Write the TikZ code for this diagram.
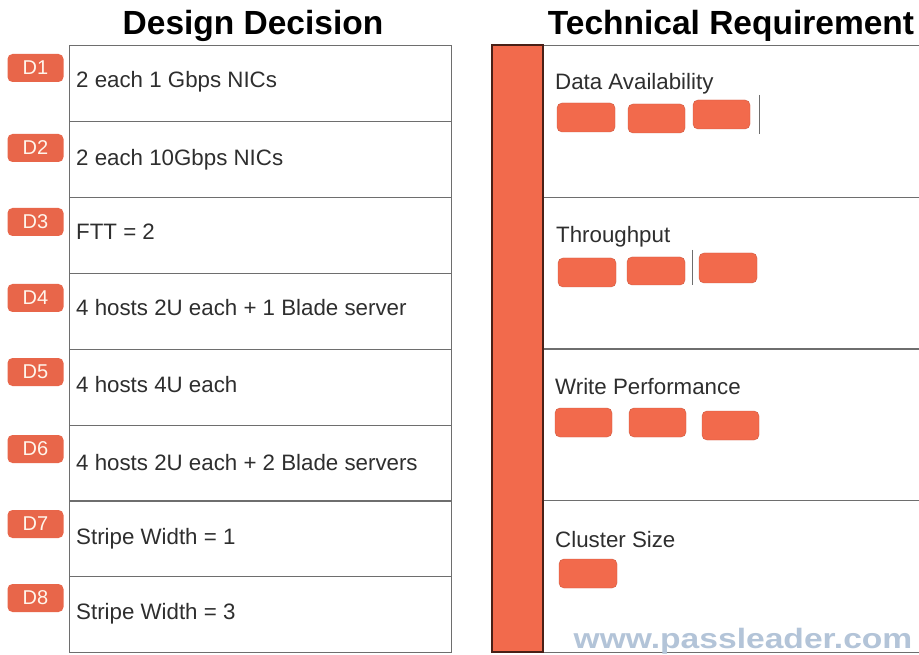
\documentclass[tikz,border=0pt]{standalone}
\usepackage{fontspec}
\usepackage{graphicx}
\setmainfont{Liberation Sans}
\definecolor{orng}{HTML}{F26A4C}
\definecolor{badgec}{HTML}{E8664A}
\definecolor{linec}{HTML}{6E6E6E}
\definecolor{txtc}{HTML}{2E2E2E}
\definecolor{wmc}{HTML}{B3C4D8}
\tikzset{
  badge/.style={fill=badgec, rounded corners=5pt, minimum width=56pt, minimum height=28pt, inner sep=0pt, text=white!92!orange, font=\fontsize{20}{20}\selectfont},
  rowbox/.style={draw=linec, line width=1.4pt, minimum width=382pt, minimum height=76pt, inner sep=0pt},
  rrow/.style={draw=linec, line width=1.4pt, minimum width=382pt, minimum height=152pt, inner sep=0pt},
  rowtext/.style={anchor=base west, inner sep=0pt, text=txtc, font=\fontsize{22.3}{23}\selectfont},
  title/.style={anchor=base, inner sep=0pt, font=\bfseries\fontsize{33.5}{34}\selectfont},
  chip/.style={fill=orng, draw=orng!85!black, line width=0.4pt, rounded corners=5pt, inner sep=0pt},
  vmark/.style={draw=linec, line width=1pt},
  bar/.style={fill=orng, draw=black!70!orng, line width=1.2pt},
  wm/.style={anchor=base, inner sep=0pt, text=wmc, font=\bfseries\fontsize{28}{28}\selectfont}
}
\newcommand{\wmtext}{\scalebox{1.2}[1]{www.passleader.com}}
\begin{document}
\begin{tikzpicture}[x=1pt,y=-1pt]
\useasboundingbox (0,0) rectangle (919,655);
\fill[white] (0,0) rectangle (919,655);

% titles
\node[title] (t1) at (253,35) {Design Decision};
\node[title] (t2) at (731,35) {Technical Requirement};

% left table rows
\foreach \i/\top in {1/45,2/121,3/197,4/273,5/349,6/425,7/500,8/576}{
  \node[rowbox, anchor=north west] (r\i) at (69,\top) {};
}
% badges
\foreach \i/\y in {1/68,2/148,3/222,4/298,5/372,6/449,7/524,8/598}{
  \node[badge] (b\i) at (35.5,\y) {D\i};
}
% row texts
\node[rowtext] (x1) at (76,88) {2 each 1 Gbps NICs};
\node[rowtext] (x2) at (76,166) {2 each 10Gbps NICs};
\node[rowtext] (x3) at (76,240) {FTT = 2};
\node[rowtext] (x4) at (76,316) {4 hosts 2U each + 1 Blade server};
\node[rowtext] (x5) at (76,392) {4 hosts 4U each};
\node[rowtext] (x6) at (76,470) {4 hosts 2U each + 2 Blade servers};
\node[rowtext] (x7) at (76,544) {Stripe Width = 1};
\node[rowtext] (x8) at (76,619) {Stripe Width = 3};

% right panel
\foreach \i/\top in {1/45,2/197,3/348,4/500}{
  \node[rrow, anchor=north west] (q\i) at (543,\top) {};
}
\draw[bar] (492,45) rectangle (543,652);

\node[rowtext] (h1) at (555,90) {Data Availability};
\node[rowtext] (h2) at (556,243) {Throughput};
\node[rowtext] (h3) at (555,394) {Write Performance};
\node[rowtext] (h4) at (555,547) {Cluster Size};

% chips - Data Availability
\draw[chip] (557,103) rectangle (615,132);
\draw[chip] (628,104) rectangle (685,133);
\draw[chip] (693,100) rectangle (750,129);
\draw[vmark] (759,95) -- (759,134);
% Throughput
\draw[chip] (558,258) rectangle (616,287);
\draw[chip] (627,257) rectangle (685,285);
\draw[vmark] (692,250) -- (692,285);
\draw[chip] (699,253) rectangle (757,283);
% Write Performance
\draw[chip] (555,408) rectangle (612,437);
\draw[chip] (629,408) rectangle (686,437);
\draw[chip] (702,411) rectangle (759,440);
% Cluster Size
\draw[chip] (559,559) rectangle (617,588);

% watermark
\node[wm] (wm) at (743,648) {\wmtext};
\end{tikzpicture}
\end{document}
